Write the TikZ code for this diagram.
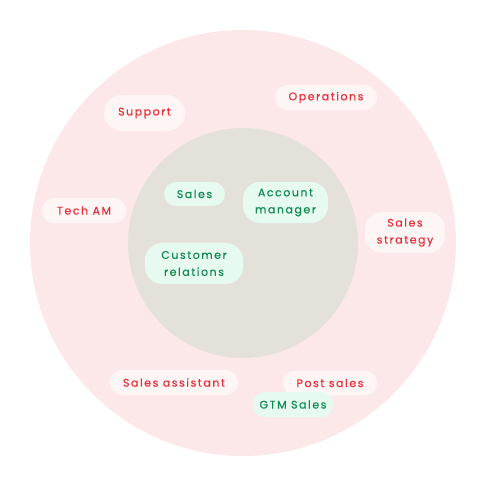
\documentclass[tikz,border=0pt]{standalone}
\usepackage{fontspec}
\setmainfont{Poppins}[LetterSpace=14, FakeBold=0.4]
\usetikzlibrary{positioning}

\definecolor{ringpink}{HTML}{FDE8E9}
\definecolor{corebeige}{HTML}{E4E1DB}
\definecolor{pillred}{HTML}{FEF5F5}
\definecolor{txtred}{HTML}{E4313B}
\definecolor{pillgreen}{HTML}{E6FAF0}
\definecolor{txtgreen}{HTML}{108A50}

\begin{document}
\begin{tikzpicture}[
  x=1pt, y=-1pt,
  pill/.style={rectangle, rounded corners=12pt, align=center, inner sep=0pt,
    minimum height=25pt, font=\fontsize{11}{17}\selectfont},
  redpill/.style={pill, fill=pillred, text=txtred},
  greenpill/.style={pill, fill=pillgreen, text=txtgreen},
  tallpill/.style={minimum height=41pt, rounded corners=17pt},
]
\useasboundingbox (0,0) rectangle (487,487);

% === circles ===
\fill[ringpink]  (243,243) circle (213);
\fill[corebeige] (243,243) circle (115);

% === outer ring (red) ===
\node[redpill, minimum width=81pt, minimum height=36pt, rounded corners=18pt] (support) at (144.5,113) {Support};
\node[redpill, minimum width=102pt] (ops)      at (326,97.5)   {Operations};
\node[redpill, minimum width=84pt]  (techam)   at (84,210.5)   {Tech AM};
\node[redpill, tallpill, minimum width=80pt] (strategy) at (405,232.5) {Sales\\strategy};
\node[redpill, minimum width=128pt] (assist)   at (174,382.5)  {Sales assistant};
\node[redpill, minimum width=94pt]  (postsales) at (330,383)   {Post sales};

% === core (green) ===
\node[greenpill, minimum width=61pt, minimum height=24pt] (sales) at (194.5,194) {Sales};
\node[greenpill, tallpill, minimum width=85pt] (accmgr) at (285.5,202.5) {Account\\manager};
\node[greenpill, tallpill, minimum width=98pt] (custrel) at (194,263.5) {Customer\\relations};
\node[greenpill, minimum width=80pt] (gtm) at (293,404.5) {GTM Sales};
\end{tikzpicture}
\end{document}
